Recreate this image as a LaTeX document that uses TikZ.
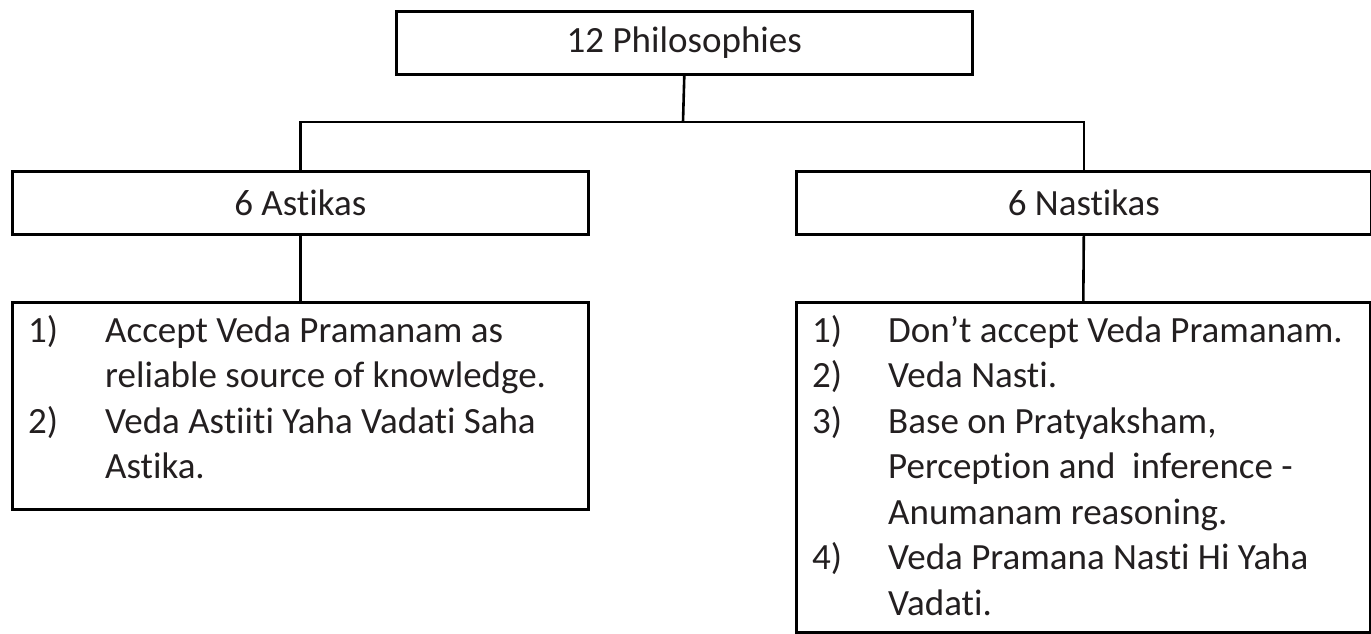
\documentclass[tikz,border=0pt]{standalone}
\usepackage{fontspec}
\setmainfont{Carlito}[Ligatures=NoCommon]
\definecolor{ink}{RGB}{35,31,32}
\begin{document}
\begin{tikzpicture}[x=1pt,y=-1pt,
  box/.style={draw=black, line width=2.6pt, inner sep=0pt, anchor=north west,
              minimum width=576pt, font=\fontsize{37}{45.5}\selectfont, text=ink},
  link/.style={draw=black, line width=2.6pt},
  item/.style={anchor=base west, inner sep=0pt, font=\fontsize{37}{45.5}\selectfont, text=ink},
]
\useasboundingbox (0,0) rectangle (1371,633);

% hierarchy boxes
\node[box, minimum height=63pt] (root) at (395,10) {12 Philosophies};
\node[box, minimum height=63pt] (ast) at (11,170) {6 Astikas};
\node[box, minimum height=63pt, minimum width=575pt] (nas) at (795,170) {6 Nastikas};
\node[box, minimum height=207pt] (astlist) at (11,301) {};
\node[box, minimum height=330pt, minimum width=574pt] (naslist) at (795,301) {};

% connectors
\coordinate (fork) at (683,122);
\draw[link] (root.south) -- (fork);
\draw[link] (fork) -| (ast.north);
\draw[link] (fork) -| (nas.north);
\draw[link] (ast.south) -- (astlist.north);
\draw[link] (nas.south) -- (naslist.north);

% Astika points
\node[item] (an1) at ([xshift=17pt,yshift=-41pt]astlist.north west) {1)};
\node[item] (at1) at ([xshift=94pt,yshift=-41pt]astlist.north west) {Accept Veda Pramanam as};
\node[item] (at2) at ([xshift=94pt,yshift=-86.5pt]astlist.north west) {reliable source of knowledge.};
\node[item] (an2) at ([xshift=17pt,yshift=-132pt]astlist.north west) {2)};
\node[item] (at3) at ([xshift=94pt,yshift=-132pt]astlist.north west) {Veda Astiiti Yaha Vadati Saha};
\node[item] (at4) at ([xshift=94pt,yshift=-177.5pt]astlist.north west) {Astika.};

% Nastika points
\node[item] (nn1) at ([xshift=17pt,yshift=-41pt]naslist.north west) {1)};
\node[item] (nt1) at ([xshift=93pt,yshift=-41pt]naslist.north west) {Don’t accept Veda Pramanam.};
\node[item] (nn2) at ([xshift=17pt,yshift=-86.5pt]naslist.north west) {2)};
\node[item] (nt2) at ([xshift=93pt,yshift=-86.5pt]naslist.north west) {Veda Nasti.};
\node[item] (nn3) at ([xshift=17pt,yshift=-132pt]naslist.north west) {3)};
\node[item] (nt3) at ([xshift=93pt,yshift=-132pt]naslist.north west) {Base on Pratyaksham,};
\node[item] (nt4) at ([xshift=93pt,yshift=-177.5pt]naslist.north west) {Perception and\ \ inference -};
\node[item] (nt5) at ([xshift=93pt,yshift=-223pt]naslist.north west) {Anumanam reasoning.};
\node[item] (nn4) at ([xshift=17pt,yshift=-268.5pt]naslist.north west) {4)};
\node[item] (nt6) at ([xshift=93pt,yshift=-268.5pt]naslist.north west) {Veda Pramana Nasti Hi Yaha};
\node[item] (nt7) at ([xshift=93pt,yshift=-314pt]naslist.north west) {Vadati.};
\end{tikzpicture}
\end{document}
